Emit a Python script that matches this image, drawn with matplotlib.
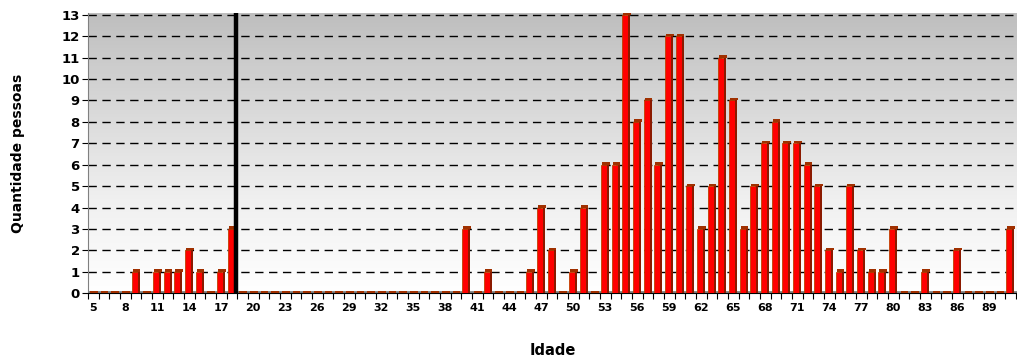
import numpy as np
import matplotlib
matplotlib.use("Agg")
import matplotlib.pyplot as plt
from matplotlib.colors import LinearSegmentedColormap

# ages 5..91 and number of people per age
ages = list(range(5, 92))
counts = [0, 0, 0, 0, 1, 0, 1, 1, 1, 2, 1, 0, 1, 3,          # 5-18
          0, 0, 0, 0, 0, 0, 0, 0, 0, 0, 0, 0, 0, 0, 0, 0,    # 19-34
          0, 0, 0, 0, 0, 3, 0, 1, 0, 0, 0, 1, 4, 2, 0, 1,    # 35-50
          4, 0, 6, 6, 13, 8, 9, 6, 12, 12, 5, 3, 5, 11, 9,   # 51-65
          3, 5, 7, 8, 7, 7, 6, 5, 2, 1, 5, 2, 1, 1, 3,       # 66-80
          0, 0, 1, 0, 0, 2, 0, 0, 0, 0, 3]                   # 81-91
tick_ages = list(range(5, 90, 3))
cut_age = 18.4

fig = plt.figure(figsize=(10.17, 3.62), dpi=100)
ax = fig.add_axes([0.0865, 0.19, 0.9135, 0.775])

x = np.array(ages)
y = np.array(counts)

# gradient background
grad = np.linspace(0, 1, 256).reshape(-1, 1)
cmap = LinearSegmentedColormap.from_list("bg", ["#ffffff", "#f0f0f0", "#d8d8d8", "#bebebe"])
ax.imshow(grad, aspect="auto", cmap=cmap, origin="lower",
          extent=[4.5, 91.6, 0, 13.1], zorder=0)

# dashed grid
for v in range(1, 14):
    ax.axhline(v, color="black", lw=1, dashes=(6, 4), zorder=1)
ax.axhline(0.08, color="#808080", lw=2, zorder=1)

# 3d-ish bars: face, dark side, top
w = 0.55
ax.bar(x - 0.12, y, width=w, color="#ff0000", edgecolor="#c04000", lw=0.6, zorder=3)
ax.bar(x + 0.25, y, width=0.2, color="#8b1a00", lw=0, zorder=3)
ax.bar(x + 0.05, np.full(len(x), 0.12), bottom=y, width=w + 0.15,
       color="#a03000", lw=0, zorder=3)

ax.axvline(cut_age, color="black", lw=3.2, zorder=4)

ax.set_xlim(4.5, 91.6)
ax.set_ylim(0, 13.1)
ax.set_yticks(range(0, 14))
ax.set_yticklabels([str(v) for v in range(0, 14)], fontsize=9.5, fontweight="bold")
ax.set_xticks(tick_ages)
ax.set_xticklabels([str(a) for a in tick_ages], fontsize=8, fontweight="bold")
ax.set_xticks(np.arange(4.5, 91.6, 1), minor=True)
ax.tick_params(axis="x", which="major", length=0, pad=7)
ax.tick_params(axis="x", which="minor", length=4, width=0.8)
ax.tick_params(axis="y", length=4, width=0.8, pad=2)

for s in ["top", "right"]:
    ax.spines[s].set_visible(False)
ax.spines["left"].set_color("#808080")
ax.spines["bottom"].set_color("black")

ax.set_ylabel("Quantidade pessoas", fontsize=10, fontweight="bold", labelpad=26)
ax.set_xlabel("Idade", fontsize=10.5, fontweight="bold", labelpad=22)

fig.savefig("out.png", dpi=100)
